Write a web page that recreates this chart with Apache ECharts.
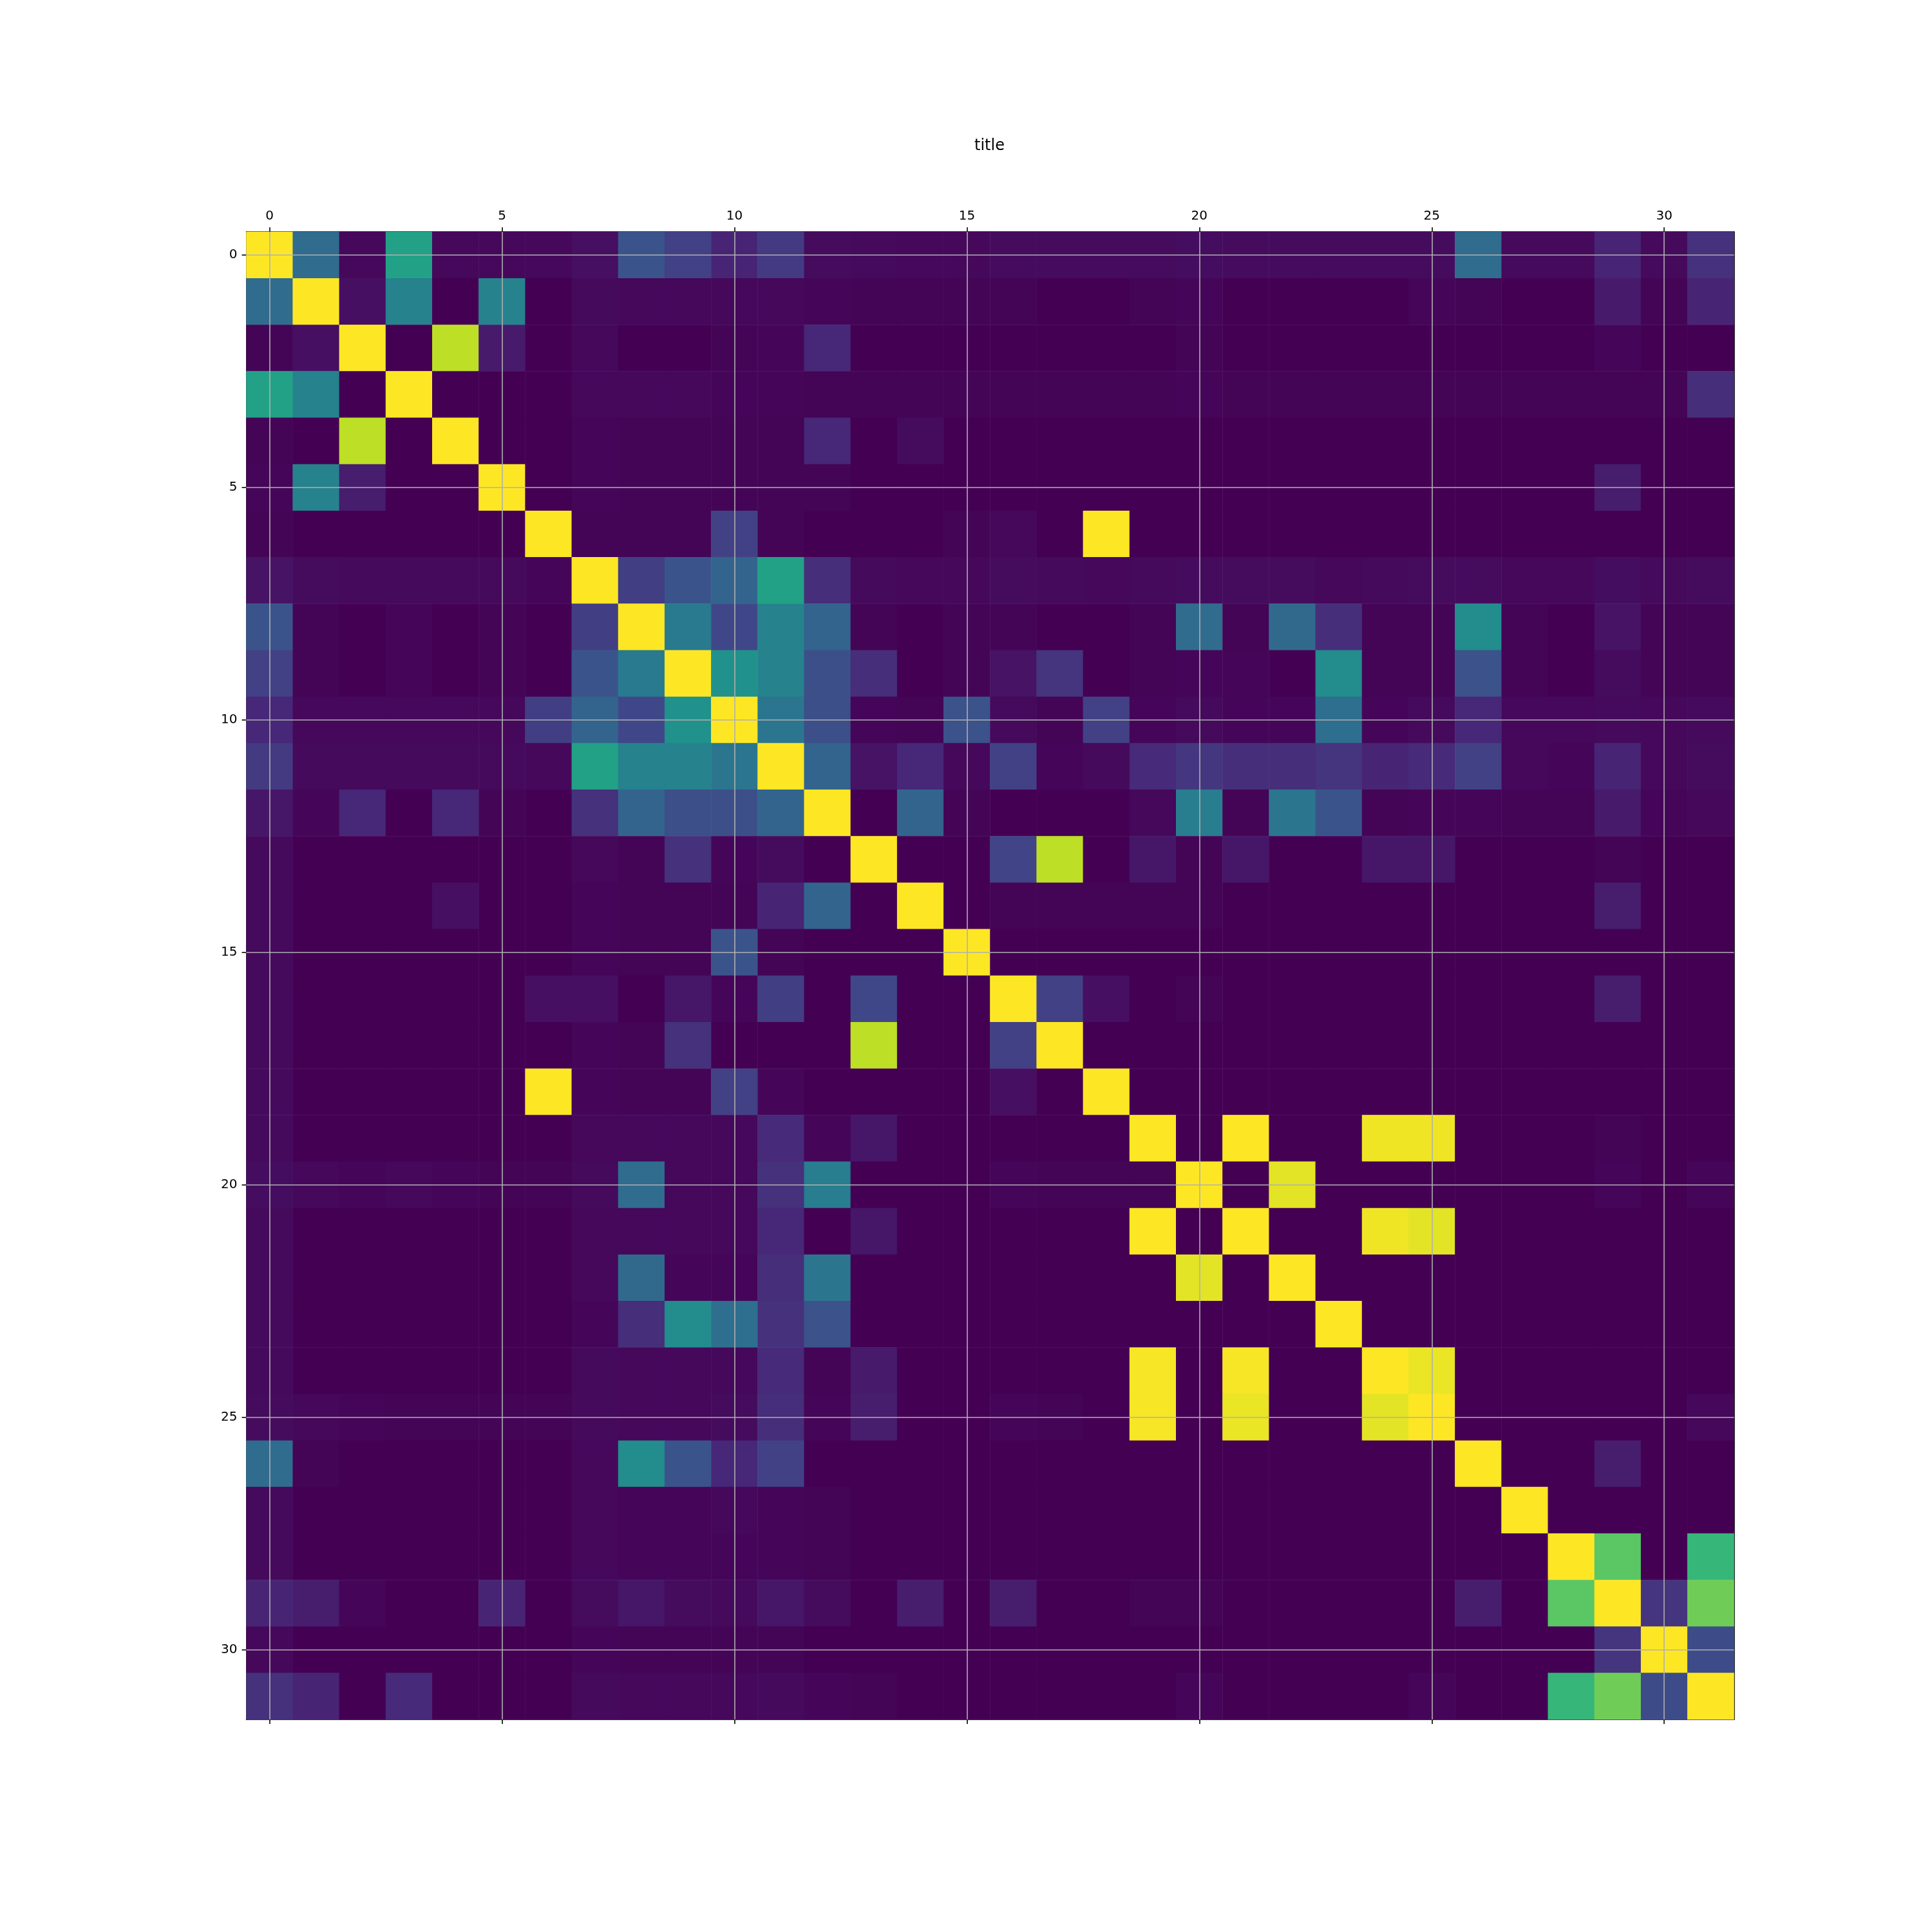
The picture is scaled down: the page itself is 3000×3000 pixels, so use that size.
<!DOCTYPE html>
<html>
<head>
<meta charset="utf-8">
<script src="https://cdn.jsdelivr.net/npm/echarts@6/dist/echarts.min.js"></script>
<style>
  html, body { margin: 0; padding: 0; background: #fff; }
  #main { width: 3000px; height: 3000px; }
</style>
</head>
<body>
<div id="main"></div>
<script>
// categories 0..31 on both axes
var categories = ['0','1','2','3','4','5','6','7','8','9','10','11','12','13','14','15',
  '16','17','18','19','20','21','22','23','24','25','26','27','28','29','30','31'];
var tickLabels = ['0','5','10','15','20','25','30'];

// matrix rows, values (0..1)
var rows = [
  [1,.35,.02,.57,.02,.02,.02,.04,.26,.19,.10,.17,.03,.025,.02,.02,.03,.03,.03,.03,.035,.03,.03,.03,.03,.03,.35,.025,.025,.10,.025,.14],
  [.35,1,.04,.44,0,.44,0,.025,.02,.02,.02,.02,.015,.01,.01,.01,.01,0,0,.01,.015,0,0,0,0,.015,.01,0,0,.07,.01,.10],
  [.01,.04,1,0,.90,.07,0,.02,0,0,.01,.015,.11,0,0,0,0,0,0,0,.01,0,0,0,0,0,0,0,0,.015,0,0],
  [.57,.44,0,1,0,0,0,.02,.02,.02,.015,.015,.01,.01,.01,.01,.01,.01,.01,.01,.015,.01,.01,.01,.01,.01,.01,.01,.01,.01,.01,.13],
  [.01,0,.90,0,1,0,0,.015,.01,.01,.01,.01,.11,0,.03,0,0,0,0,0,0,0,0,0,0,0,0,0,0,0,0,0],
  [.015,.44,.08,0,0,1,0,.015,.01,.01,.01,.01,.01,0,0,0,0,0,0,0,0,0,0,0,0,0,0,0,0,.08,0,0],
  [.01,0,0,0,0,0,1,.01,.01,.01,.19,.01,0,0,0,.01,.02,0,1,0,0,0,0,0,0,0,0,0,0,0,0,0],
  [.05,.03,.025,.025,.025,.025,.015,1,.18,.26,.32,.57,.13,.025,.02,.02,.03,.025,.02,.025,.03,.03,.03,.02,.025,.03,.03,.02,.02,.035,.025,.03],
  [.26,.01,0,.015,0,.01,0,.18,1,.41,.21,.44,.32,.01,0,.01,.01,0,0,.01,.35,.01,.34,.13,.01,.01,.48,.01,0,.05,.01,.01],
  [.19,.01,0,.015,0,.01,0,.26,.41,1,.50,.44,.24,.13,0,.01,.05,.15,0,.01,.015,.015,0,.48,.01,.01,.25,.01,0,.03,.01,.01],
  [.11,.02,.02,.02,.02,.02,.18,.32,.21,.50,1,.39,.24,.015,.01,.25,.025,.01,.19,.015,.025,.015,.015,.36,.015,.025,.11,.02,.02,.025,.02,.025],
  [.17,.025,.025,.025,.025,.025,.02,.57,.44,.44,.39,1,.32,.05,.11,.02,.19,.015,.025,.12,.16,.13,.13,.15,.10,.12,.19,.02,.015,.10,.02,.03],
  [.06,.015,.11,0,.11,.01,0,.14,.32,.24,.24,.32,1,0,.32,.01,0,0,0,.02,.42,.01,.39,.26,.01,.015,.015,.01,.01,.07,.015,.02],
  [.025,0,0,0,0,0,0,.02,.01,.14,.015,.03,0,1,0,0,.20,.90,0,.06,.01,.06,0,0,.06,.06,0,0,0,.01,0,0],
  [.025,0,0,0,.04,0,0,.015,.01,.01,.01,.10,.32,0,1,0,.01,.01,.01,.01,.01,0,0,0,0,0,0,0,0,.08,0,0],
  [.025,0,0,0,0,0,0,.015,.01,.01,.26,.01,0,0,0,1,0,0,0,0,0,0,0,0,0,0,0,0,0,0,0,0],
  [.025,0,0,0,0,0,.04,.04,0,.06,.015,.18,0,.21,0,0,1,.19,.04,0,.01,0,0,0,0,0,0,0,0,.08,0,0],
  [.025,0,0,0,0,0,0,.015,.01,.14,0,0,0,.90,0,0,.19,1,0,0,0,0,0,0,0,0,0,0,0,0,0,0],
  [.025,0,0,0,0,0,1,.015,.01,.01,.19,.015,0,0,0,0,.04,0,1,0,0,0,0,0,0,0,0,0,0,0,0,0],
  [.025,0,0,0,0,0,0,.02,.02,.02,.02,.12,.015,.06,0,0,0,0,0,1,0,1,0,0,.98,.98,0,0,0,.01,0,0],
  [.035,.02,.015,.02,.015,.01,.01,.025,.35,.02,.02,.14,.42,0,0,0,.015,.01,.01,.01,1,0,.96,0,0,0,0,0,0,.015,0,.015],
  [.025,0,0,0,0,0,0,.02,.02,.02,.02,.11,0,.06,0,0,0,0,0,1,0,1,0,0,.98,.96,0,0,0,0,0,0],
  [.025,0,0,0,0,0,0,.02,.34,.015,.015,.13,.39,0,0,0,0,0,0,0,.96,0,1,0,0,0,0,0,0,0,0,0],
  [.025,0,0,0,0,0,0,.015,.13,.48,.36,.14,.25,0,0,0,0,0,0,0,0,0,0,1,0,0,0,0,0,0,0,0],
  [.025,0,0,0,0,0,0,.025,.02,.02,.02,.12,.01,.07,0,0,0,0,0,.99,0,.99,0,0,1,.97,0,0,0,0,0,0],
  [.03,.02,.015,.01,.01,.01,.01,.025,.02,.02,.03,.13,.015,.08,0,0,.015,.01,0,.99,0,.97,0,0,.96,1,0,0,0,0,0,.02],
  [.35,.01,0,0,0,0,0,.02,.48,.26,.11,.19,0,0,0,0,0,0,0,0,0,0,0,0,0,0,1,0,0,.08,0,0],
  [.025,0,0,0,0,0,0,.02,.015,.015,.02,.015,.01,0,0,0,0,0,0,0,0,0,0,0,0,0,0,1,0,0,0,0],
  [.025,0,0,0,0,0,0,.02,.015,.015,.015,.015,.01,0,0,0,0,0,0,0,0,0,0,0,0,0,0,0,1,.74,0,.66],
  [.10,.08,.015,0,0,.10,0,.03,.06,.03,.025,.06,.03,0,.08,0,.08,0,0,.01,.01,0,0,0,0,0,.08,0,.74,1,.15,.78],
  [.02,0,0,0,0,0,0,.015,.01,.01,.01,.01,0,0,0,0,0,0,0,0,0,0,0,0,0,0,0,0,0,.15,1,.23],
  [.14,.10,0,.12,0,0,0,.025,.02,.02,.02,.025,.015,.01,0,0,0,0,0,0,.015,0,0,0,0,.015,0,0,.66,.78,.23,1]
];

// viridis stops
var viridis = ['#440154','#482475','#414487','#355f8d','#2a788e','#21918c',
  '#22a884','#44bf70','#7ad151','#bddf26','#fde725'];

var cells = [];
for (var r = 0; r < rows.length; r++) {
  for (var c = 0; c < rows[r].length; c++) {
    cells.push([c, r, rows[r][c]]);
  }
}

var gridLines = [];
tickLabels.forEach(function (t) {
  gridLines.push({ xAxis: t });
  gridLines.push({ yAxis: t });
});

var font = 'DejaVu Sans';
var tickStyle = { color: '#000', width: 1.6 };

function makeX(pos, showLabel) {
  return {
    type: 'category',
    data: categories,
    position: pos,
    boundaryGap: true,
    axisLine: { show: true, onZero: false, lineStyle: tickStyle },
    axisTick: { show: true, alignWithLabel: true, interval: 4, length: 7, lineStyle: tickStyle },
    axisLabel: { show: showLabel, interval: 4, margin: 14, fontSize: 20, fontFamily: font, color: '#000' },
    splitLine: { show: false }
  };
}

var chart = echarts.init(document.getElementById('main'), null, { renderer: 'canvas' });

var option = {
  backgroundColor: '#fff',
  animation: false,
  title: {
    text: 'title',
    left: 1508,
    top: 210,
    textStyle: { fontSize: 24, fontWeight: 'normal', color: '#000', fontFamily: font }
  },
  grid: { left: 382.5, top: 360, width: 2310, height: 2310, containLabel: false },
  xAxis: [makeX('top', true), makeX('bottom', false)],
  yAxis: [
    {
      type: 'category',
      data: categories,
      inverse: true,
      position: 'left',
      axisLine: { show: true, onZero: false, lineStyle: tickStyle },
      axisTick: { show: true, alignWithLabel: true, interval: 4, length: 7, lineStyle: tickStyle },
      axisLabel: { interval: 4, margin: 14, fontSize: 20, fontFamily: font, color: '#000' },
      splitLine: { show: false }
    },
    {
      type: 'category',
      data: categories,
      inverse: true,
      position: 'right',
      axisLine: { show: true, onZero: false, lineStyle: tickStyle },
      axisTick: { show: false },
      axisLabel: { show: false },
      splitLine: { show: false }
    }
  ],
  visualMap: {
    show: false,
    min: 0,
    max: 1,
    dimension: 2,
    seriesIndex: 0,
    inRange: { color: viridis }
  },
  series: [
    {
      type: 'heatmap',
      data: cells,
      xAxisIndex: 0,
      yAxisIndex: 0,
      itemStyle: { borderWidth: 0 },
      emphasis: { disabled: true },
      progressive: 0
    },
    {
      type: 'line',
      data: [],
      xAxisIndex: 0,
      yAxisIndex: 0,
      z: 10,
      markLine: {
        silent: true,
        symbol: ['none', 'none'],
        label: { show: false },
        lineStyle: { color: '#b0b0b0', width: 1.6, type: 'solid' },
        data: gridLines
      }
    }
  ]
};

chart.setOption(option);
</script>
</body>
</html>
